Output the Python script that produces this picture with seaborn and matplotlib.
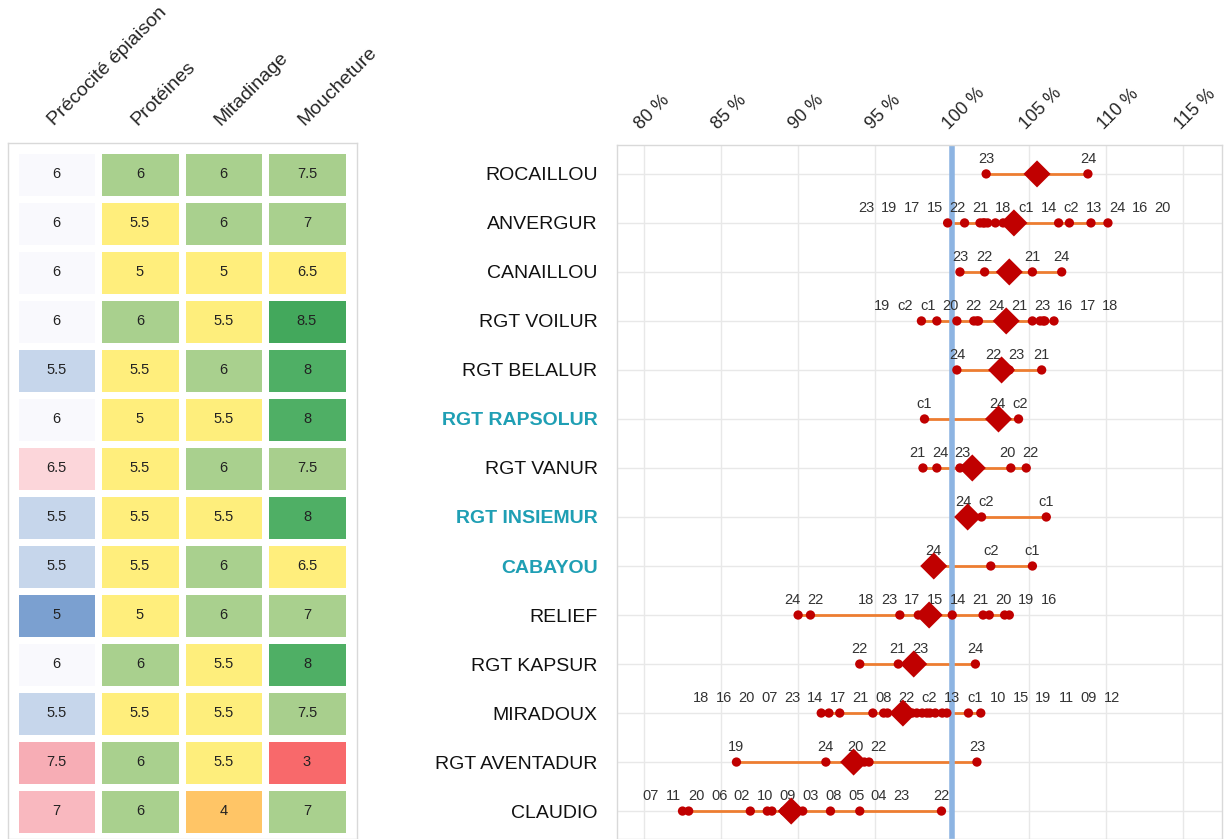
import numpy as np
import pandas as pd
import seaborn as sns
import matplotlib.pyplot as plt
from matplotlib.colors import LinearSegmentedColormap

# --- data -------------------------------------------------------------
varieties = ['ROCAILLOU', 'ANVERGUR', 'CANAILLOU', 'RGT VOILUR', 'RGT BELALUR',
             'RGT RAPSOLUR', 'RGT VANUR', 'RGT INSIEMUR', 'CABAYOU', 'RELIEF',
             'RGT KAPSUR', 'MIRADOUX', 'RGT AVENTADUR', 'CLAUDIO']
highlighted = ['RGT RAPSOLUR', 'RGT INSIEMUR', 'CABAYOU']

heat_columns = ['Précocité épiaison', 'Protéines', 'Mitadinage', 'Moucheture']
precocite = [6, 6, 6, 6, 5.5, 6, 6.5, 5.5, 5.5, 5, 6, 5.5, 7.5, 7]
proteines = [6, 5.5, 5, 6, 5.5, 5, 5.5, 5.5, 5.5, 5, 6, 5.5, 6, 6]
mitadinage = [6, 6, 5, 5.5, 6, 5.5, 6, 5.5, 6, 6, 5.5, 5.5, 5.5, 4]
moucheture = [7.5, 7, 6.5, 8.5, 8, 8, 7.5, 8, 6.5, 7, 8, 7.5, 3, 7]

# synthesis value (diamond), % of the control mean
synthesis = [105.5, 104.0, 103.7, 103.5, 103.2, 103.0, 101.3, 101.0, 98.8,
             98.5, 97.5, 96.8, 93.6, 89.55]

# yearly / trial results (% of control) and their labels
rocaillou = [102.2, 108.8]
rocaillou_lab = ['23', '24']
anvergur = [99.7, 100.8, 101.8, 102.0, 102.1, 102.3, 102.8, 103.3, 103.8, 104.2,
            106.9, 107.6, 109.0, 110.1]
anvergur_lab = ['23', '19', '17', '15', '22', '21', '18', 'c1', '14', 'c2', '13',
                '24', '16', '20']
canaillou = [100.5, 102.1, 105.2, 107.1]
canaillou_lab = ['23', '22', '21', '24']
voilur = [98.0, 99.0, 100.3, 101.4, 101.6, 101.7, 105.2, 105.7, 105.9, 106.0, 106.6]
voilur_lab = ['19', 'c2', 'c1', '20', '22', '24', '21', '23', '16', '17', '18']
belalur = [100.3, 103.1, 103.7, 105.8]
belalur_lab = ['24', '22', '23', '21']
rapsolur = [98.2, 103.0, 104.3]
rapsolur_lab = ['c1', '24', 'c2']
vanur = [98.1, 99.0, 100.5, 103.8, 104.8]
vanur_lab = ['21', '24', '23', '20', '22']
insiemur = [101.0, 101.9, 106.1]
insiemur_lab = ['24', 'c2', 'c1']
cabayou = [98.8, 102.5, 105.2]
cabayou_lab = ['24', 'c2', 'c1']
relief = [90.0, 90.8, 96.6, 97.8, 98.3, 98.9, 100.0, 102.0, 102.4, 103.4, 103.7]
relief_lab = ['24', '22', '18', '23', '17', '15', '14', '21', '20', '19', '16']
kapsur = [94.0, 96.5, 97.9, 101.5]
kapsur_lab = ['22', '21', '23', '24']
miradoux = [91.5, 92.0, 92.7, 94.85, 95.55, 95.8, 96.5, 96.75, 97.05, 97.4, 97.7,
            98.05, 98.35, 98.55, 98.9, 99.35, 99.65, 101.05, 101.85]
miradoux_lab = ['18', '16', '20', '07', '23', '14', '17', '21', '08', '22', 'c2',
                '13', 'c1', '10', '15', '19', '11', '09', '12']
aventadur = [86.0, 91.8, 94.3, 94.6, 101.6]
aventadur_lab = ['19', '24', '20', '22', '23']
claudio = [82.5, 82.9, 86.9, 88.0, 88.3, 89.1, 89.4, 89.6, 89.9, 90.3, 92.1, 94.0, 99.3]
claudio_lab = ['07', '11', '20', '06', '02', '10', '09', '03', '08', '05', '04', '23', '22']

trials = [rocaillou, anvergur, canaillou, voilur, belalur, rapsolur, vanur,
          insiemur, cabayou, relief, kapsur, miradoux, aventadur, claudio]
trial_labels = [rocaillou_lab, anvergur_lab, canaillou_lab, voilur_lab, belalur_lab,
                rapsolur_lab, vanur_lab, insiemur_lab, cabayou_lab, relief_lab,
                kapsur_lab, miradoux_lab, aventadur_lab, claudio_lab]

x_ticks = [80, 85, 90, 95, 100, 105, 110, 115]

# --- style ------------------------------------------------------------
sns.set_theme(style='white')
plt.rcParams['font.family'] = ['Liberation Sans', 'DejaVu Sans']

teal = '#1F9FB4'
grey_line = '#D9D9D9'
yellow = '#FFEE7C'

fig = plt.figure(figsize=(12.29, 8.39), dpi=100)
W, H = 1229, 839


def box(l, t, r, b):
    return [l / W, 1 - b / H, (r - l) / W, (b - t) / H]


ax_h = fig.add_axes(box(8, 143, 357, 839))
ax = fig.add_axes(box(617, 145, 1222, 839))

# --- left: heatmap, one colour scale per column ------------------------
heat = pd.DataFrame({heat_columns[0]: precocite, heat_columns[1]: proteines,
                     heat_columns[2]: mitadinage, heat_columns[3]: moucheture},
                    index=varieties)

scales = [
    [(5, '#7BA0D0'), (5.5, '#C6D6EB'), (6, '#F9F9FD'), (6.5, '#FCD6DA'), (7, '#F9B8BF'), (7.5, '#F7ADB5')],
    [(5, yellow), (5.5, yellow), (6, '#A9D08E')],
    [(4, '#FFC566'), (5, yellow), (5.5, yellow), (6, '#A9D08E')],
    [(3, '#F8696B'), (6.5, yellow), (7, '#A9D08E'), (7.5, '#A9D08E'), (8, '#4FAF65'), (8.5, '#43A85C')],
]

for j, col in enumerate(heat_columns):
    lo, hi = scales[j][0][0], scales[j][-1][0]
    cm = LinearSegmentedColormap.from_list(
        col, [((v - lo) / (hi - lo), c) for v, c in scales[j]])
    mask = np.ones(heat.shape, dtype=bool)
    mask[:, j] = False
    sns.heatmap(heat, mask=mask, cmap=cm, vmin=lo, vmax=hi, annot=True, fmt='g',
                annot_kws={'size': 10.5, 'color': '#222222'},
                linewidths=3.8, linecolor='white', cbar=False, ax=ax_h,
                xticklabels=True, yticklabels=False)

ax_h.set_xlim(-0.081, 4.099)
ax_h.set_ylim(14.07, -0.133)
ax_h.set_ylabel('')
ax_h.xaxis.tick_top()
ax_h.tick_params(axis='x', length=0, pad=10, labelsize=14)
for t in ax_h.get_xticklabels():
    t.set_rotation(45)
    t.set_ha('left')
    t.set_rotation_mode('anchor')
for s in ax_h.spines.values():
    s.set_visible(True)
    s.set_color(grey_line)
    s.set_linewidth(1)

# --- right: trial results ---------------------------------------------
LABEL_GAP = 1.48  # min distance between neighbouring labels (% units)


def spread(xs, gap):
    # push overlapping labels apart, keeping each group centred
    clusters = []
    for x in sorted(xs):
        clusters.append([x, 1])  # [sum of ideal positions, count]
        while len(clusters) > 1:
            (s1, n1), (s2, n2) = clusters[-2], clusters[-1]
            end1 = s1 / n1 + (n1 - 1) * gap / 2
            start2 = s2 / n2 - (n2 - 1) * gap / 2
            if start2 - end1 < gap:
                clusters[-2:] = [[s1 + s2, n1 + n2]]
            else:
                break
    pos = []
    for s, n in clusters:
        start = s / n - (n - 1) * gap / 2
        pos += [start + k * gap for k in range(n)]
    return pos


rows = []
for i, (vals, labs) in enumerate(zip(trials, trial_labels)):
    for v, lab in zip(vals, labs):
        rows.append({'variety': varieties[i], 'row': i, 'value': v, 'label': lab})
dots = pd.DataFrame(rows)

for i, vals in enumerate(trials):
    ax.hlines(i, min(vals), max(vals), color='#ED7D31', lw=2, zorder=2)

ax.axvline(100, color='#8DB4E2', lw=4, zorder=2.5)

sns.scatterplot(data=dots, x='value', y='row', color='#C00000', s=45,
                edgecolor='none', ax=ax, zorder=3)
sns.scatterplot(x=synthesis, y=list(range(len(varieties))), marker='D',
                color='#C00000', s=190, edgecolor='none', ax=ax, zorder=4)

for i, (vals, labs) in enumerate(zip(trials, trial_labels)):
    for p, lab in zip(spread(vals, LABEL_GAP), labs):
        ax.annotate(lab, (p, i), xytext=(0, 6), textcoords='offset points',
                    ha='center', va='bottom', fontsize=10.5, color='#333333')

ax.set_xlim(78.25, 117.5)
ax.set_ylim(13.57, -0.59)
ax.set_xticks(x_ticks)
ax.set_xticklabels([f'{t} %' for t in x_ticks])
ax.set_yticks(range(len(varieties)))
ax.set_yticklabels(varieties)
ax.set_xlabel('')
ax.set_ylabel('')
ax.xaxis.tick_top()
ax.tick_params(axis='x', length=0, pad=9, labelsize=13)
ax.tick_params(axis='y', length=0, pad=14, labelsize=14)
for t in ax.get_xticklabels():
    t.set_rotation(45)
    t.set_ha('left')
    t.set_rotation_mode('anchor')
for t in ax.get_yticklabels():
    if t.get_text() in highlighted:
        t.set_color(teal)
        t.set_fontweight('bold')
    else:
        t.set_color('#111111')

ax.grid(True, color='#E8E8E8', lw=1)
ax.set_axisbelow(True)
for s in ax.spines.values():
    s.set_visible(True)
    s.set_color(grey_line)
    s.set_linewidth(1)

fig.savefig('out.png', dpi=100, facecolor='white')
